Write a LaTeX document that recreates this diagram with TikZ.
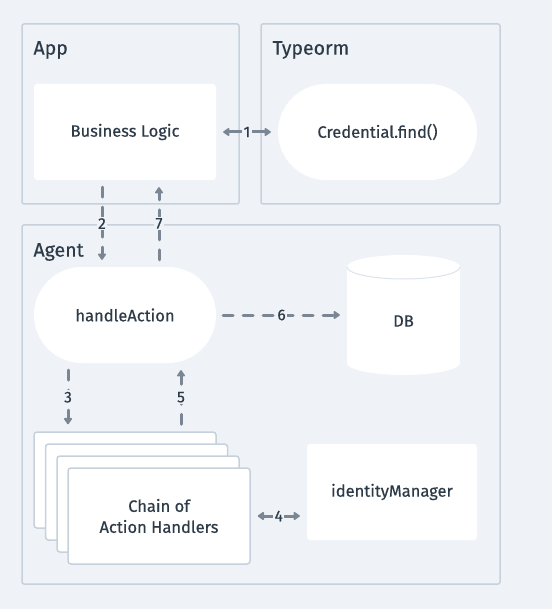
\documentclass[tikz,border=0pt]{standalone}
\usepackage{fontspec}
\setmainfont{Fira Sans}[FakeBold=0.4]
\usetikzlibrary{arrows.meta}
\definecolor{bgcol}{HTML}{EFF3F7}
\definecolor{framecol}{HTML}{C6D1DC}
\definecolor{arrowcol}{HTML}{7A8693}
\definecolor{textcol}{HTML}{2D3A48}

\begin{document}
\begin{tikzpicture}[x=1pt,y=-1pt,
  every node/.style={text=textcol, font=\fontsize{16.5}{21}\selectfont},
  frame/.style={draw=framecol, line width=1.5pt, rounded corners=2pt},
  title/.style={anchor=west, font=\fontsize{19.5}{23}\selectfont},
  card/.style={fill=white, rounded corners=3pt, minimum width=182pt, minimum height=96pt, align=center},
  pill/.style={card, rounded corners=48pt},
  layer/.style={card, draw=framecol, line width=1.5pt},
  flow/.style={draw=arrowcol, line width=3pt, -{Triangle[length=7pt,width=9pt,round]}, shorten >=7pt, shorten <=7pt},
  both/.style={flow, {Triangle[length=7pt,width=9pt,round]}-{Triangle[length=7pt,width=9pt,round]}},
  async/.style={flow, line cap=round, dash pattern=on 10pt off 10pt},
  num/.style={fill=bgcol, inner sep=1.5pt, font=\fontsize{15.5}{18}\selectfont}
]
\fill[bgcol] (0,0) rectangle (552,609);
\useasboundingbox (0,0) rectangle (552,609);

% containers
\draw[frame] (22,24) rectangle (239,204);
\draw[frame] (261,24) rectangle (500,204);
\draw[frame] (22,225) rectangle (500,584);
\node[title] (applbl) at (30,50) {App};
\node[title] (ormlbl) at (269,50) {Typeorm};
\node[title] (agentlbl) at (30,252) {Agent};

% App / Typeorm
\node[card] (bizlogic) at (125,132) {Business Logic};
\node[pill, minimum width=199pt] (credfind) at (377.5,132) {Credential.find()};

% Agent
\node[pill] (handle) at (125,315) {handleAction};

\fill[white] (347,267) rectangle (460,363);
\fill[white] (403.5,267) ellipse [x radius=56.5pt, y radius=12pt];
\fill[white] (403.5,363) ellipse [x radius=56.5pt, y radius=12pt];
\draw[framecol!60, line width=1pt] (347,267) arc[start angle=180, end angle=360, x radius=56.5pt, y radius=12pt];
\node[minimum width=113pt, minimum height=108pt] (db) at (403.5,321) {DB};

\node[layer] (back0) at (125,480) {};
\node[layer] (back1) at (136.5,492) {};
\node[layer] (back2) at (148,504) {};
\node[layer] (chain) at (159,516) {Chain of\\Action Handlers};

\node[card, minimum width=170pt] (idmgr) at (392,492) {identityManager};

% steps
\draw[both] (bizlogic) -- node[num] {1} (credfind);
\draw[async] ([xshift=-23pt]bizlogic.south) -- node[num] {2} ([xshift=-23pt]handle.north);
\draw[async] ([xshift=-57pt]handle.south) -- node[num] {3} ([xshift=-57pt]back0.north);
\draw[both] (chain.east) -- node[num] {4} (idmgr.west |- chain.east);
\draw[async] ([xshift=56pt]back0.north) -- node[num] {5} ([xshift=56pt]handle.south);
\draw[async] (handle.east) -- node[num] {6} (db.west |- handle.east);
\draw[async] ([xshift=34pt]handle.north) -- node[num] {7} ([xshift=34pt]bizlogic.south);

\end{tikzpicture}
\end{document}
